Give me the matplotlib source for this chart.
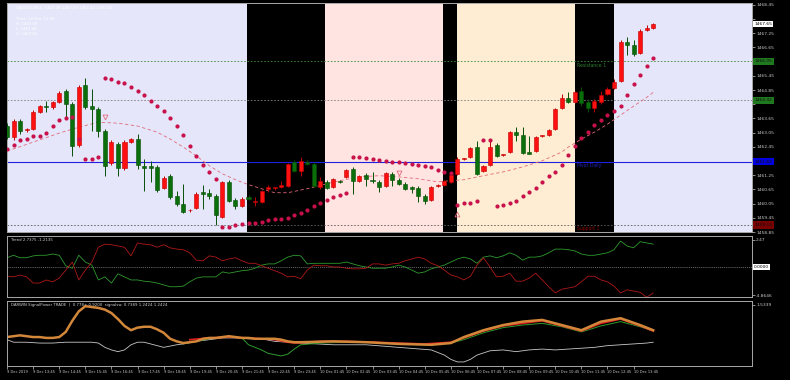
import numpy as np
import matplotlib.pyplot as plt
import matplotlib.transforms as mtransforms

# ---- XAUUSD M15 bars (9 Dec 12:45 .. 10 Dec 13:30) ----
opens = [1463.33, 1462.86, 1463.54, 1463.16, 1463.20, 1463.91, 1464.17, 1464.12, 1464.33, 1464.80,
         1464.25, 1462.53, 1465.05, 1464.17, 1464.04, 1463.12, 1461.77, 1462.57, 1461.56, 1462.65,
         1462.78, 1461.65, 1461.65, 1461.60, 1460.72, 1461.23, 1460.39, 1460.05, 1459.76, 1459.88,
         1460.55, 1460.51, 1460.39, 1459.50, 1460.97, 1460.22, 1459.97, 1460.34, 1460.13, 1460.13,
         1460.68, 1460.72, 1460.76, 1460.81, 1461.81, 1461.44, 1461.81, 1461.73, 1460.76, 1460.97,
         1460.76, 1461.02, 1461.18, 1461.52, 1461.02, 1461.27, 1461.06, 1460.97, 1460.81, 1461.31,
         1461.06, 1460.89, 1460.76, 1460.72, 1460.39, 1460.22, 1460.81, 1460.85, 1460.97, 1461.31,
         1461.94, 1462.02, 1462.44, 1461.44, 1461.69, 1462.53, 1462.11, 1462.23, 1463.07, 1462.95,
         1462.23, 1462.28, 1462.91, 1462.95, 1463.20, 1464.08, 1464.50, 1464.33, 1464.80, 1464.33,
         1464.08, 1464.33, 1464.67, 1464.92, 1465.22, 1466.90, 1466.77, 1466.43, 1467.40, 1467.48]
highs = [1463.45, 1463.62, 1463.62, 1463.24, 1464.00, 1464.21, 1464.38, 1464.38, 1464.80, 1464.88,
         1464.33, 1465.05, 1465.38, 1464.88, 1464.12, 1463.20, 1462.74, 1462.65, 1462.74, 1462.82,
         1462.99, 1461.94, 1461.86, 1461.69, 1461.23, 1461.31, 1460.60, 1460.89, 1459.84, 1460.55,
         1460.85, 1460.68, 1460.47, 1461.02, 1461.06, 1460.30, 1460.34, 1460.43, 1460.34, 1460.64,
         1460.85, 1460.76, 1461.02, 1461.77, 1461.90, 1462.02, 1461.90, 1461.81, 1461.18, 1461.06,
         1461.14, 1461.06, 1461.52, 1461.60, 1461.27, 1461.35, 1461.39, 1461.06, 1461.39, 1461.39,
         1461.14, 1460.97, 1460.81, 1460.81, 1460.47, 1460.81, 1460.89, 1461.06, 1461.31, 1462.02,
         1461.98, 1462.44, 1462.70, 1461.69, 1462.70, 1462.61, 1462.15, 1463.12, 1463.28, 1463.28,
         1462.91, 1462.91, 1462.95, 1463.20, 1464.08, 1464.67, 1464.75, 1464.80, 1464.96, 1464.46,
         1464.46, 1464.80, 1464.96, 1465.30, 1466.98, 1467.11, 1466.98, 1467.44, 1467.61, 1467.69]
lows = [1462.78, 1462.74, 1462.99, 1463.07, 1463.16, 1463.87, 1463.91, 1464.04, 1464.29, 1463.70,
        1462.07, 1462.44, 1464.04, 1463.12, 1462.86, 1461.23, 1461.69, 1461.23, 1461.48, 1462.61,
        1461.52, 1460.60, 1460.97, 1460.55, 1460.68, 1460.26, 1459.97, 1459.67, 1459.71, 1459.84,
        1459.84, 1460.26, 1459.13, 1459.46, 1460.13, 1459.84, 1459.92, 1460.22, 1459.97, 1460.09,
        1460.55, 1460.64, 1460.72, 1460.76, 1461.39, 1461.23, 1461.69, 1460.76, 1460.68, 1460.68,
        1460.72, 1460.93, 1461.14, 1460.47, 1460.97, 1460.81, 1460.93, 1460.55, 1460.76, 1460.81,
        1460.85, 1460.64, 1460.51, 1460.13, 1460.05, 1460.18, 1460.76, 1460.81, 1460.93, 1461.27,
        1461.90, 1461.98, 1461.27, 1461.39, 1461.65, 1462.02, 1462.07, 1462.19, 1462.70, 1462.15,
        1462.15, 1462.23, 1462.86, 1462.91, 1463.16, 1464.04, 1464.29, 1464.29, 1464.17, 1463.91,
        1463.91, 1464.25, 1464.63, 1464.88, 1465.17, 1466.35, 1466.31, 1466.39, 1467.36, 1467.44]
closes = [1462.86, 1463.54, 1463.12, 1463.20, 1463.91, 1464.17, 1464.12, 1464.33, 1464.71, 1464.25,
          1462.49, 1464.96, 1464.12, 1464.04, 1463.12, 1461.65, 1462.65, 1461.56, 1462.65, 1462.78,
          1461.69, 1461.56, 1461.56, 1460.64, 1461.14, 1460.34, 1460.05, 1459.71, 1459.80, 1460.47,
          1460.47, 1460.39, 1459.55, 1460.97, 1460.18, 1459.97, 1460.26, 1460.26, 1460.18, 1460.60,
          1460.76, 1460.74, 1460.85, 1461.73, 1461.44, 1461.86, 1461.73, 1460.81, 1461.02, 1460.72,
          1461.10, 1460.97, 1461.48, 1461.02, 1461.23, 1461.10, 1461.02, 1460.76, 1461.35, 1461.06,
          1460.89, 1460.68, 1460.68, 1460.39, 1460.18, 1460.76, 1460.85, 1461.02, 1461.27, 1461.94,
          1461.96, 1462.40, 1461.31, 1461.65, 1462.44, 1462.07, 1462.13, 1463.07, 1462.95, 1462.19,
          1462.15, 1462.86, 1462.93, 1463.16, 1464.04, 1464.50, 1464.33, 1464.75, 1464.29, 1464.08,
          1464.38, 1464.63, 1464.88, 1465.17, 1466.90, 1466.77, 1466.39, 1467.36, 1467.48, 1467.65]

# parabolic SAR, one dot per bar
psar = [1462.36, 1462.53, 1462.74, 1462.78, 1462.91, 1462.91, 1463.03, 1463.33, 1463.58, 1463.66,
        1463.70, 1462.78, 1461.94, 1461.94, 1462.02, 1465.38, 1465.30, 1465.17, 1465.13, 1464.96,
        1464.80, 1464.63, 1464.38, 1464.17, 1463.96, 1463.66, 1463.33, 1462.95, 1462.49, 1462.07,
        1461.69, 1461.39, 1461.10, 1459.08, 1459.08, 1459.13, 1459.17, 1459.21, 1459.25, 1459.29,
        1459.34, 1459.38, 1459.38, 1459.46, 1459.55, 1459.67, 1459.80, 1459.97, 1460.09, 1460.22,
        1460.34, 1460.43, 1460.51, 1462.02, 1462.02, 1461.98, 1461.94, 1461.90, 1461.86, 1461.81,
        1461.81, 1461.77, 1461.73, 1461.69, 1461.65, 1461.60, 1461.48, 1461.39, 1461.35, 1460.01,
        1460.09, 1460.09, 1460.18, 1462.74, 1462.74, 1459.97, 1460.01, 1460.09, 1460.18, 1460.39,
        1460.55, 1460.72, 1460.97, 1461.23, 1461.39, 1461.69, 1462.11, 1462.49, 1462.82, 1463.07,
        1463.37, 1463.58, 1463.79, 1463.96, 1464.17, 1464.63, 1465.09, 1465.47, 1465.85, 1466.22]

# moving average (dashed)
ma_bars = [0, 1, 4, 8, 11, 14, 17, 20, 23, 25, 27, 29, 31, 33, 35, 37, 39, 41, 43, 46, 49,
           51, 54, 57, 60, 63, 66, 68, 70, 73, 76, 79, 82, 85, 86, 88, 90, 92, 94, 96, 98, 99]
ma_vals = [1462.28, 1462.36, 1462.65, 1463.03, 1463.28, 1463.49, 1463.45, 1463.33, 1463.07, 1462.78,
           1462.44, 1462.07, 1461.65, 1461.31, 1461.06, 1460.85, 1460.68, 1460.51, 1460.51, 1460.68,
           1460.89, 1461.02, 1461.18, 1461.23, 1461.18, 1461.10, 1460.97, 1461.02, 1461.06, 1461.23,
           1461.39, 1461.60, 1461.86, 1462.23, 1462.44, 1462.78, 1463.07, 1463.41, 1463.79, 1464.17,
           1464.54, 1464.75]

arrow_bars = [15, 60, 69]
arrow_prices = [1463.70, 1461.35, 1459.63]
arrow_dirs = ['v', 'v', '^']

# daily pivot levels
level_names = ['Resistance 1', '', 'Pivot Daily', 'Support 1']
level_prices = [1466.06, 1464.42, 1461.82, 1459.14]
level_box_labels = ['1466.05', '1464.42', '1461.82', '1459.14']

# trading sessions (bar index ranges)
session_starts = [36.75, 48.7, 66.8, 68.9, 87.0]
session_ends = [48.7, 66.8, 68.9, 87.0, 93.0]
session_colors = ['black', '#FFE4E1', 'black', '#FFEDD3', 'black']

price_ticks = [1468.45, 1467.85, 1467.25, 1466.65, 1466.05, 1465.45, 1464.85, 1464.25,
               1463.65, 1463.05, 1462.45, 1461.85, 1461.25, 1460.65, 1460.05, 1459.45, 1458.85]
last_price = 1467.65

# Trend indicator (two lines)
trend_up = [1.5, 1.9, 1.5, 1.5, 1.8, 1.9, 1.9, 2.1, 1.9, 0.2, -0.2, 1.9, 0.8, 0.3, -2.1, -1.6, -2.6,
            -1.1, -1.6, -2.1, -2.1, -2.3, -2.4, -2.6, -2.9, -3.2, -3.2, -3.1, -2.4, -1.8, -1.6, -1.6,
            -1.6, -0.8, -1.0, -0.8, -0.6, -0.5, -0.2, 0.3, 0.5, 0.5, 1.0, 1.6, 1.9, 1.8, 0.5, 0.6,
            0.6, 0.6, 0.6, 0.6, 0.8, 0.5, 0.2, 0.0, -0.2, -0.2, -0.2, 0.0, 0.3, 0.0, -0.5, -1.0, -0.8,
            -0.3, 0.0, 0.3, 0.8, 1.3, 1.6, 1.3, 0.6, 1.6, 1.8, 1.5, 1.8, 2.3, 1.9, 1.1, 1.6, 1.6, 1.8,
            2.3, 2.9, 2.9, 2.8, 2.6, 2.1, 1.9, 1.9, 2.1, 2.3, 2.8, 4.2, 3.4, 3.1, 4.1, 3.9, 3.7]
trend_dn = [-1.5, -1.6, -1.3, -1.6, -2.6, -2.6, -2.1, -2.4, -1.8, -0.5, 0.8, -2.1, -0.5, 0.8, 3.2,
            3.7, 3.6, 3.4, 3.2, 1.8, 3.9, 3.7, 3.6, 3.2, 3.6, 3.1, 2.9, 2.8, 2.3, 1.1, 1.0, 1.8, 1.6,
            1.0, 1.3, 1.5, 1.0, 0.6, 0.6, 0.2, -0.2, -0.6, -1.0, -1.6, -1.5, -1.9, -0.5, 0.3, 0.2, 0.2,
            0.0, 0.0, -0.2, -0.3, -0.3, -0.2, 0.5, 0.5, 0.3, 0.5, 0.6, 1.0, 1.3, 1.6, 1.3, 0.6, 0.2,
            -0.5, -1.3, -1.6, -2.1, -1.5, 0.3, 1.5, 0.0, -1.6, -1.5, -1.0, -2.3, -2.3, -1.8, -1.0,
            -2.1, -3.2, -4.2, -3.6, -3.4, -3.2, -2.4, -1.5, -1.5, -2.1, -2.4, -3.1, -4.2, -3.7, -3.9,
            -4.1, -4.9, -4.2]

# SignalPower indicator
sp_main_bars = list(range(45)) + [45, 50, 55, 60, 65, 68, 70, 73, 76, 79, 82, 85, 88, 91, 94, 97, 99]
sp_main = [1.16, 1.17, 1.18, 1.17, 1.16, 1.16, 1.15, 1.15, 1.16, 1.22, 1.35, 1.46, 1.52, 1.51, 1.50,
           1.48, 1.44, 1.37, 1.29, 1.24, 1.27, 1.28, 1.28, 1.25, 1.21, 1.14, 1.11, 1.09, 1.10, 1.11,
           1.14, 1.15, 1.15, 1.16, 1.17, 1.16, 1.15, 1.15, 1.14, 1.14, 1.14, 1.14, 1.13, 1.11, 1.10,
           1.10, 1.11, 1.10, 1.08, 1.07, 1.09, 1.16, 1.24, 1.30, 1.34, 1.36, 1.30, 1.24, 1.34, 1.38,
           1.30, 1.24]
sp_base_bars = [0, 1, 3, 5, 7, 9, 11, 13, 14, 15, 16, 17, 18, 19, 20, 21, 22, 23, 24, 26, 27, 29, 31,
                33, 35, 37, 39, 41, 43, 45, 50, 55, 60, 65, 67, 68, 69, 70, 71, 72, 74, 76, 78, 80,
                82, 84, 86, 88, 90, 92, 94, 96, 98, 99]
sp_base = [1.13, 1.10, 1.10, 1.09, 1.09, 1.10, 1.10, 1.10, 1.09, 1.04, 1.01, 0.99, 1.01, 1.07, 1.10,
           1.10, 1.08, 1.06, 1.04, 1.07, 1.08, 1.11, 1.13, 1.15, 1.15, 1.14, 1.14, 1.11, 1.10, 1.09,
           1.07, 1.07, 1.04, 1.01, 0.95, 0.90, 0.87, 0.87, 0.90, 0.95, 1.00, 1.01, 0.99, 1.01, 1.02,
           1.01, 1.02, 1.03, 1.04, 1.06, 1.07, 1.08, 1.09, 1.10]
sp_buy_bars = [27, 29, 31, 34, 36, 37, 39, 40, 42, 43, 44, 45, 48, 52, 56, 60, 64, 68, 70, 73, 76,
               79, 82, 85, 88, 91, 94, 97, 99]
sp_buy = [1.08, 1.11, 1.14, 1.17, 1.15, 1.07, 1.01, 0.97, 0.94, 0.96, 1.02, 1.07, 1.09, 1.10, 1.10,
          1.08, 1.07, 1.09, 1.13, 1.21, 1.27, 1.30, 1.32, 1.28, 1.22, 1.29, 1.34, 1.28, 1.23]
sp_sell_bars = [28, 31, 34, 37, 39, 41, 43, 44, 48, 52, 56, 60, 64, 68, 70, 73, 76, 79, 82, 85, 88,
                91, 94, 97, 99]
sp_sell = [1.13, 1.15, 1.16, 1.15, 1.14, 1.13, 1.10, 1.09, 1.11, 1.11, 1.10, 1.09, 1.08, 1.10, 1.15,
           1.23, 1.29, 1.32, 1.35, 1.29, 1.23, 1.32, 1.37, 1.29, 1.23]

time_labels = ['9 Dec 2019'] + ['9 Dec %d:45' % h for h in range(13, 24)] + \
              ['10 Dec %02d:45' % h for h in range(1, 14)]
time_label_bars = list(range(0, 4 * len(time_labels), 4))

# ---------------------------------------------------------------------------
W, H = 790, 380
fig = plt.figure(figsize=(W / 100, H / 100), dpi=100, facecolor='black')


def rect(x0, y0, x1, y1):
    return [x0 / W, 1 - y1 / H, (x1 - x0) / W, (y1 - y0) / H]


ax = fig.add_axes(rect(7, 3, 752, 232))
ax2 = fig.add_axes(rect(7, 236, 752, 297), sharex=ax)
ax3 = fig.add_axes(rect(7, 301, 752, 366), sharex=ax)

x0, x1 = 0.05, 0.05 + 745 / 6.53
ax.set_xlim(x0, x1)
ax.set_ylim(1458.92, 1468.53)
ax.set_facecolor('#E6E6FA')

for s, e, c in zip(session_starts, session_ends, session_colors):
    ax.axvspan(s, e, color=c, lw=0, zorder=0)

# pivot levels
level_styles = [dict(color='#3C8C3C', ls=(0, (2, 2)), lw=0.6),
                dict(color='#808080', ls=(0, (2, 2)), lw=0.6),
                dict(color='#2020E0', ls='-', lw=0.8),
                dict(color='#606060', ls=(0, (2, 2)), lw=0.6)]
level_text_colors = ['#2E7D2E', '#2E7D2E', '#2020C0', '#8B0000']
level_box_colors = ['#1F7A1F', '#1F7A1F', '#0000E0', '#7A0000']
for p, st in zip(level_prices, level_styles):
    ax.axhline(p, zorder=1, **st)
for name, p, c in zip(level_names, level_prices, level_text_colors):
    if name:
        ax.text(87.3, p - 0.05, name, color=c, fontsize=3.3, va='top', ha='left', zorder=2)

# candles: red = up bar, green = down bar
o, h, l, c = map(np.array, (opens, highs, lows, closes))
xs = np.arange(len(o))
up = c >= o
body_col = np.where(up, '#FF1010', '#0A6E0A')
edge_col = np.where(up, '#C00000', '#064F06')
ax.vlines(xs, l, h, colors=edge_col, lw=0.7, zorder=3)
ax.bar(xs, np.maximum(np.abs(c - o), 0.015), bottom=np.minimum(o, c), width=0.62,
       color=body_col, edgecolor=edge_col, linewidth=0.4, zorder=4)

ax.plot(ma_bars, ma_vals, color='#E06A7A', lw=0.6, ls=(0, (4, 3)), zorder=2)
ax.plot(xs, psar, ls='none', marker='o', ms=2.0, mfc='#C8104A', mec='#C8104A', zorder=5)
for b, p, m in zip(arrow_bars, arrow_prices, arrow_dirs):
    ax.plot(b, p, marker=m, ms=3.5, mfc='none', mec='#E46A7A', mew=0.6, zorder=5)

# price axis on the right; labels hidden where a level box sits on top
box_prices = level_prices + [last_price]
ax.yaxis.tick_right()
ax.set_yticks(price_ticks)
ax.set_yticklabels(['' if min(abs(t - b) for b in box_prices) < 0.22 else '%.2f' % t
                    for t in price_ticks])
ax.tick_params(axis='y', colors='#C8C8C8', labelsize=3.2, length=2, width=0.5, pad=1)
ax.tick_params(axis='x', bottom=False, labelbottom=False)
tr = mtransforms.blended_transform_factory(ax.transAxes, ax.transData)
for lab, p, bc in zip(level_box_labels, level_prices, level_box_colors):
    ax.text(1.003, p, lab, transform=tr, fontsize=3.2, color='#101010', va='center', ha='left',
            bbox=dict(facecolor=bc, edgecolor='none', pad=1.2), clip_on=False)
ax.text(1.003, last_price, '%.2f' % last_price, transform=tr, fontsize=3.2, color='black',
        va='center', ha='left', bbox=dict(facecolor='white', edgecolor='none', pad=0.8),
        clip_on=False)

# header text
info = ['XAUUSD,M15  1467.48 1467.69 1467.44 1467.65', '',
        'Time: 10 Dec 13:30', 'H: 1467.69', 'L: 1467.44', 'C: 1467.65']
for i, t in enumerate(info):
    ax.text(0.012, 0.985 - i * 0.022, t, transform=ax.transAxes, fontsize=2.8,
            color='white', va='top', ha='left', zorder=6)

# ---- trend panel ----
ax2.set_facecolor('black')
ax2.set_ylim(-4.86, 5.02)
ax2.axhline(0, color='#909090', ls=(0, (1.5, 1.5)), lw=0.5)
ax2.plot(xs, trend_up, color='#2E9A2E', lw=0.6)
ax2.plot(xs, trend_dn, color='#B01818', lw=0.6)
ax2.text(0.005, 0.97, 'Trend 2.7375 -1.2135', transform=ax2.transAxes, fontsize=2.8,
         color='#D0D0D0', va='top')
ax2.yaxis.tick_right()
ax2.set_yticks([4.4, -4.6])
ax2.set_yticklabels(['2.47', '-4.8646'])
ax2.tick_params(axis='y', colors='#C8C8C8', labelsize=3.2, length=2, width=0.5, pad=1)
ax2.tick_params(axis='x', bottom=False, labelbottom=False)
tr2 = mtransforms.blended_transform_factory(ax2.transAxes, ax2.transData)
ax2.text(1.003, 0, '0.0000', transform=tr2, fontsize=3.2, color='black', va='center',
         ha='left', bbox=dict(facecolor='white', edgecolor='none', pad=0.8), clip_on=False)

# ---- signal power panel ----
ax3.set_facecolor('black')
ax3.set_ylim(0.8226, 1.5805)
ax3.plot(sp_base_bars, sp_base, color='#C8C8C8', lw=0.6)
ax3.plot(sp_buy_bars, sp_buy, color='#2E9A2E', lw=0.7)
ax3.plot(sp_sell_bars, sp_sell, color='#E02020', lw=1.2)
ax3.plot(sp_main_bars, sp_main, color='#D2873A', lw=1.8)
ax3.text(0.005, 0.97, 'DARWIN SignalPower TRADE  |  0.778+ 0.9200  signalsw: 0.7389 1.2424 1.2424',
         transform=ax3.transAxes, fontsize=2.8, color='#D0D0D0', va='top')
ax3.yaxis.tick_right()
ax3.set_yticks([1.5339])
ax3.set_yticklabels(['1.5339'])
ax3.tick_params(axis='y', colors='#C8C8C8', labelsize=3.2, length=2, width=0.5, pad=1)
ax3.set_xticks(time_label_bars)
ax3.set_xticklabels(time_labels, ha='left')
ax3.tick_params(axis='x', colors='#C8C8C8', labelsize=2.6, length=2, width=0.5, pad=1)

for a in (ax, ax2, ax3):
    for sp in a.spines.values():
        sp.set_color('#A8A8A8')
        sp.set_linewidth(0.7)

fig.savefig('out.png', dpi=100, facecolor='black')
